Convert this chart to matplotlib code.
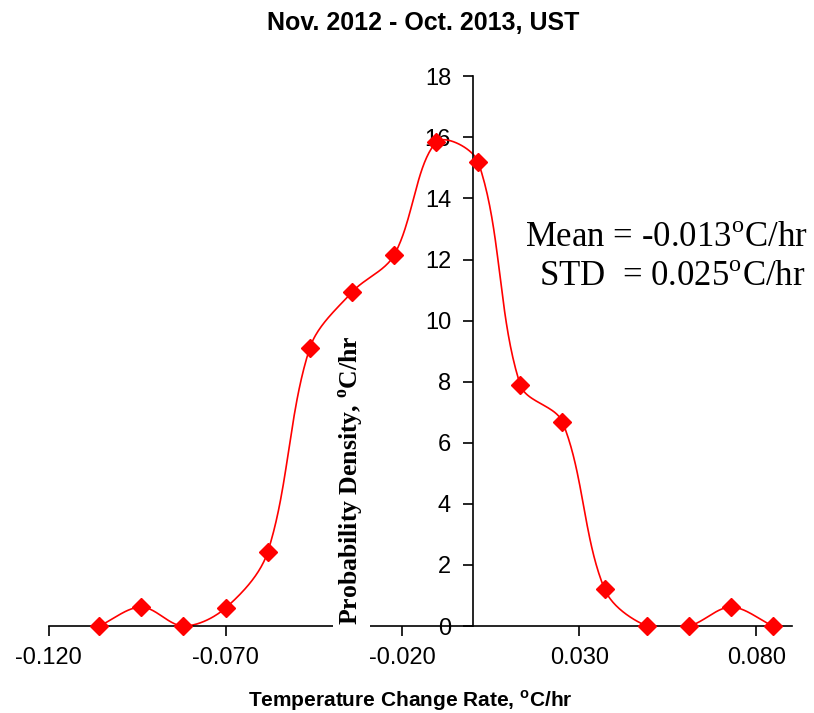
import numpy as np
import matplotlib.pyplot as plt

# bin centres (degC/hr) and probability density
rate = [-0.1057, -0.0938, -0.0819, -0.0700, -0.0581, -0.0462, -0.0343, -0.0224,
        -0.0105, 0.0014, 0.0133, 0.0252, 0.0371, 0.0490, 0.0609, 0.0728, 0.0847]
density = [0.0, 0.62, 0.0, 0.59, 2.42, 9.10, 10.93, 12.14,
           15.84, 15.19, 7.89, 6.68, 1.21, 0.0, 0.0, 0.62, 0.0]
xticks = [-0.120, -0.070, -0.020, 0.030, 0.080]
yticks = list(range(0, 19, 2))


def smooth(ax, x, y, n=40):
    # Excel-style smoothed line, built in screen space
    trans = ax.transData
    p = trans.transform(np.column_stack([x, y]))
    p = np.vstack([p[0], p, p[-1]])
    t = np.linspace(0, 1, n)[:, None]
    out = []
    for i in range(1, len(p) - 2):
        p0, p1, p2, p3 = p[i - 1], p[i], p[i + 1], p[i + 2]
        d01 = np.hypot(*(p1 - p0))
        d12 = np.hypot(*(p2 - p1))
        d23 = np.hypot(*(p3 - p2))
        f1 = d12 / (d01 + d12) / 3 if d01 + d12 > 0 else 0
        f2 = d12 / (d12 + d23) / 3 if d12 + d23 > 0 else 0
        c1 = p1 + (p2 - p0) * f1
        c2 = p2 - (p3 - p1) * f2
        seg = (1 - t) ** 3 * p1 + 3 * (1 - t) ** 2 * t * c1 + 3 * (1 - t) * t ** 2 * c2 + t ** 3 * p2
        out.append(seg)
    out = trans.inverted().transform(np.vstack(out))
    return out[:, 0], out[:, 1]


plt.rcParams['font.family'] = ['Liberation Sans', 'DejaVu Sans']
plt.rcParams['mathtext.fontset'] = 'custom'

fig = plt.figure(figsize=(8.14, 7.13), dpi=100)
ax = fig.add_axes([0.0597, 0.122, 0.913, 0.771])
ax.set_xlim(-0.120, 0.090)
ax.set_ylim(0, 18)

sx, sy = smooth(ax, rate, density)
ax.plot(sx, sy, color='red', lw=1.2, zorder=2)
ax.plot(rate, density, ls='none', marker='D', ms=9.5, color='red', zorder=3, clip_on=False)

ax.spines['top'].set_visible(False)
ax.spines['right'].set_visible(False)
ax.spines['left'].set_position(('data', 0))
ax.spines['bottom'].set_position(('data', 0))
for s in ['left', 'bottom']:
    ax.spines[s].set_linewidth(1.2)

ax.set_xticks(xticks)
ax.set_xticklabels(['%.3f' % v for v in xticks])
ax.set_yticks(yticks)
ax.tick_params(axis='both', direction='out', length=7, width=1.2, labelsize=17)
ax.tick_params(axis='x', pad=8)
ax.tick_params(axis='y', pad=9)

fig.text(0.52, 0.968, 'Nov. 2012 - Oct. 2013, UST', ha='center', va='center',
         fontsize=18, fontweight='bold')
fig.text(0.504, 0.018, r'Temperature Change Rate, $^{\mathregular{o}}$C/hr', ha='center',
         va='center', fontsize=15, fontweight='bold')

fig.text(0.432, 0.327, r'Probability Density, $^{\mathregular{o}}$C/hr', rotation=90,
         ha='center', va='center', fontsize=18.5, fontweight='bold',
         family='Liberation Serif',
         bbox=dict(facecolor='white', edgecolor='none', pad=3))

fig.text(0.819, 0.666, r'Mean = -0.013$^{\mathregular{o}}$C/hr', ha='center', va='center',
         fontsize=25, family='Liberation Serif')
fig.text(0.826, 0.611, r'STD  = 0.025$^{\mathregular{o}}$C/hr', ha='center', va='center',
         fontsize=25, family='Liberation Serif')

fig.savefig('out.png', dpi=100)
